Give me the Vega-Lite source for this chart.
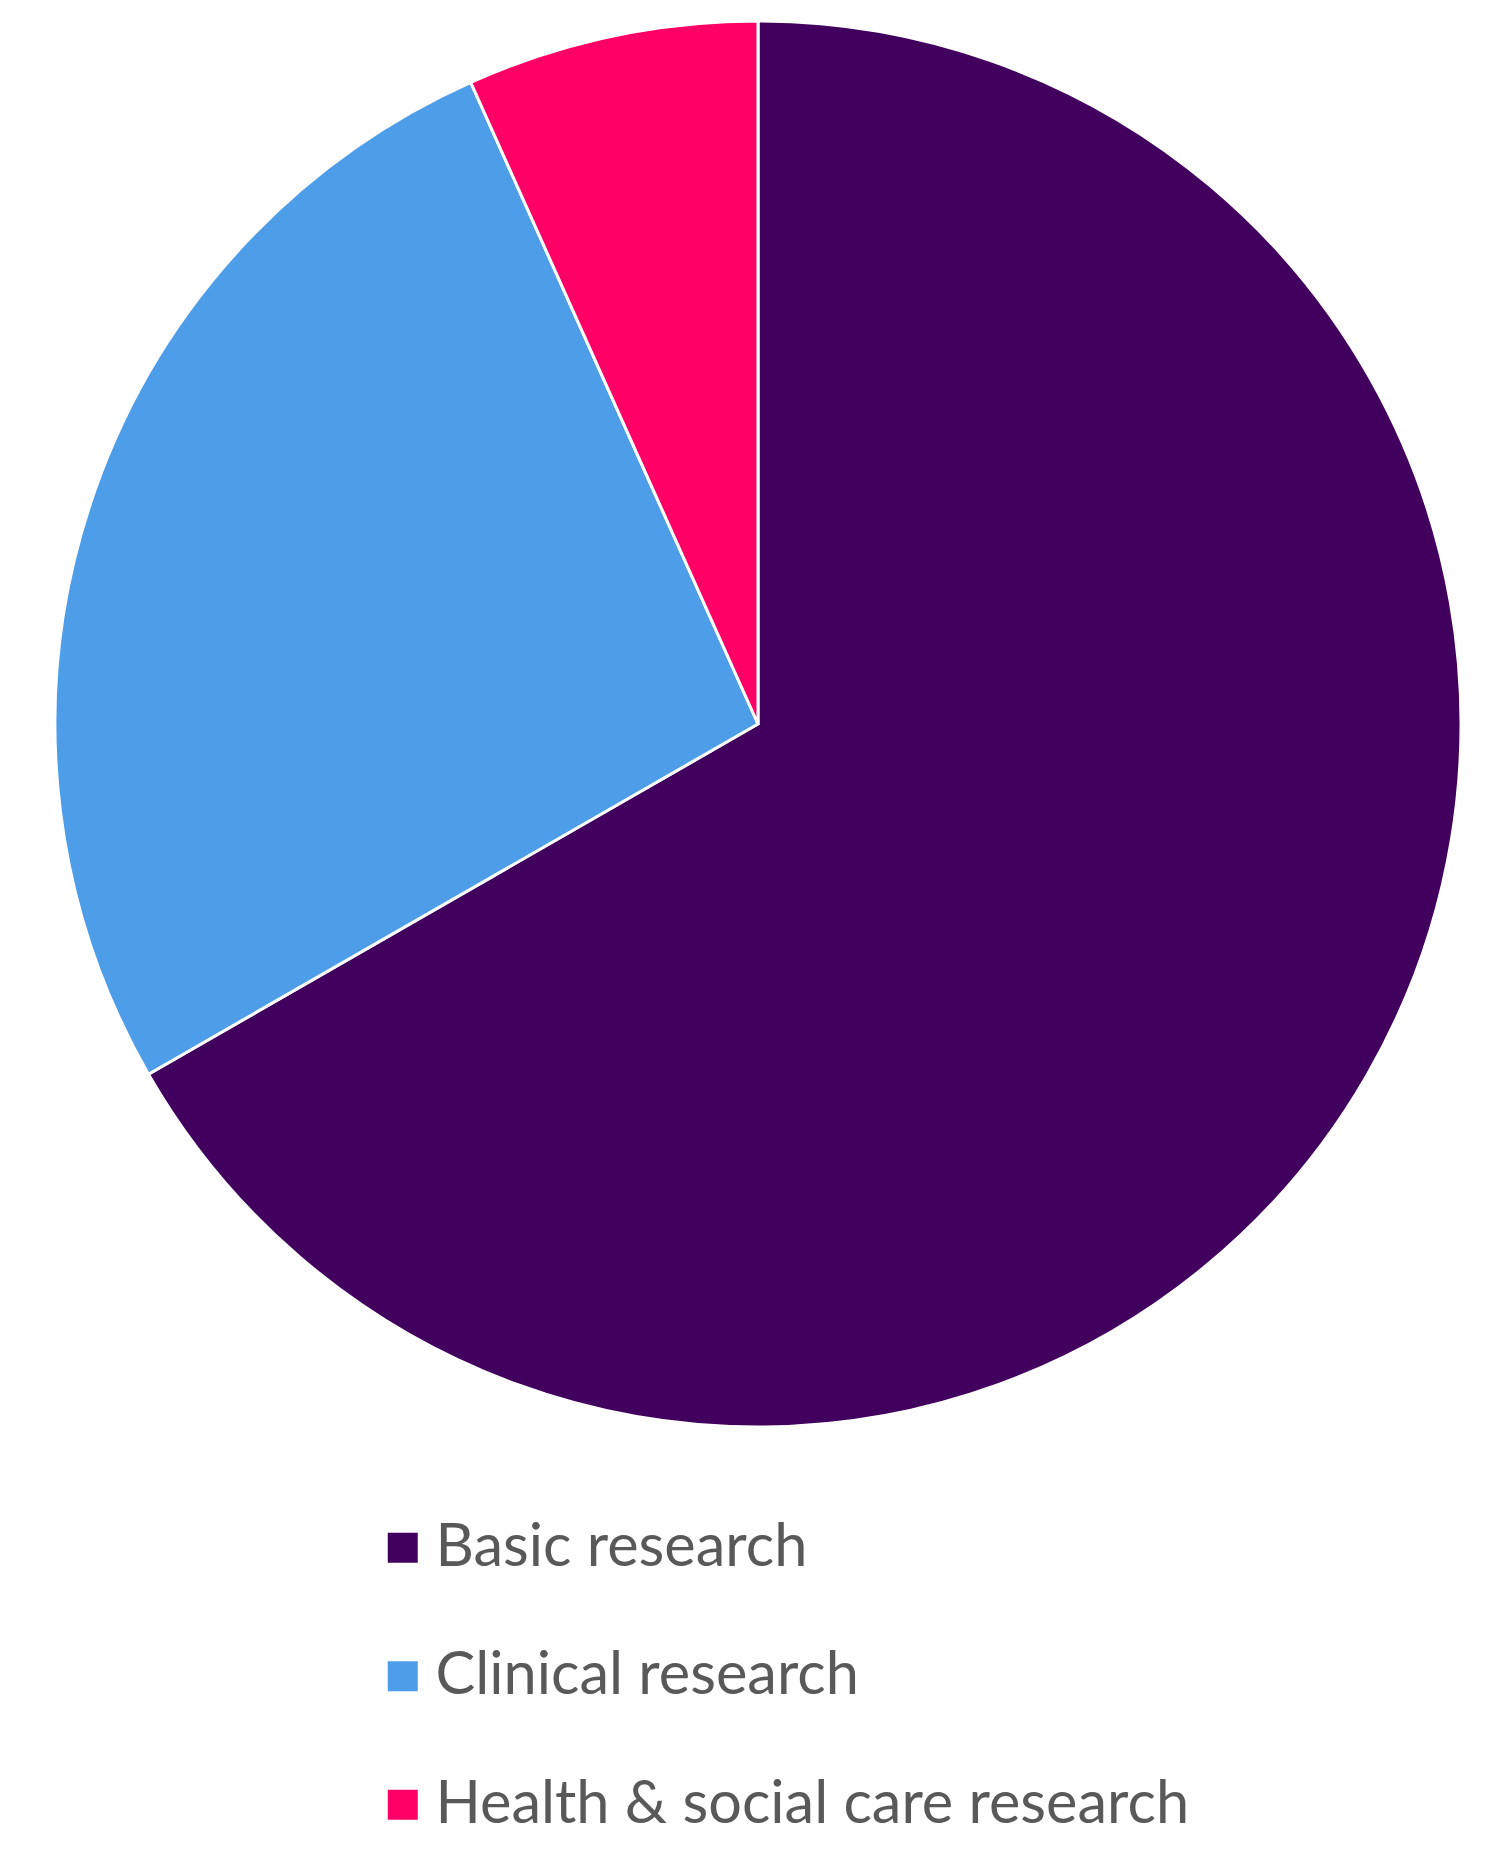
{
  "$schema": "https://vega.github.io/schema/vega-lite/v6.json",
  "width": 1472,
  "height": 1448,
  "autosize": "none",
  "padding": {"left": 22, "top": 0, "right": 0, "bottom": 403},
  "background": "white",
  "config": {"view": {"stroke": null}},
  "data": {
    "values": [
      {"category": "Basic research", "share": 66.7, "order": 1},
      {"category": "Clinical research", "share": 26.6, "order": 2},
      {"category": "Health & social care research", "share": 6.7, "order": 3}
    ]
  },
  "mark": {"type": "arc", "outerRadius": 703, "stroke": "white", "strokeWidth": 3},
  "encoding": {
    "theta": {"field": "share", "type": "quantitative", "stack": true},
    "order": {"field": "order", "type": "quantitative"},
    "color": {
      "field": "category",
      "type": "nominal",
      "sort": ["Basic research", "Clinical research", "Health & social care research"],
      "scale": {
        "domain": ["Basic research", "Clinical research", "Health & social care research"],
        "range": ["#42005E", "#4D9DE8", "#FF0066"]
      },
      "legend": {
        "title": null,
        "orient": "none",
        "legendX": 351,
        "legendY": 1518,
        "direction": "vertical",
        "padding": 0,
        "symbolType": "square",
        "symbolSize": 900,
        "symbolStrokeWidth": 0,
        "symbolOffset": 0,
        "labelFont": "Lato",
        "labelFontSize": 59.5,
        "labelColor": "#595959",
        "labelOffset": 3,
        "labelLimit": 1200,
        "rowPadding": 67.5
      }
    }
  }
}
